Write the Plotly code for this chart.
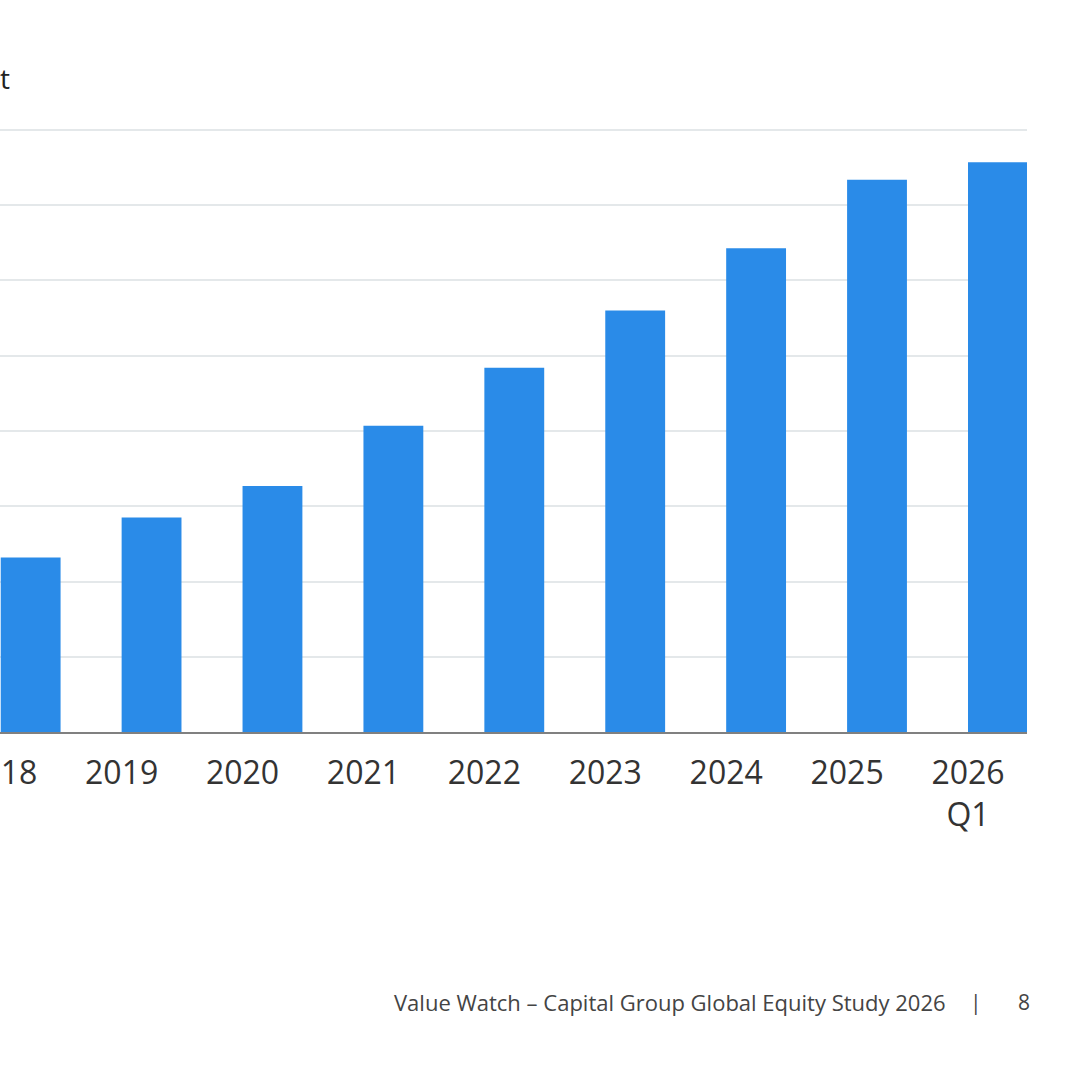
import plotly.graph_objects as go

categories = ["2018", "2019", "2020", "2021", "2022", "2023", "2024", "2025", "2026<br>Q1"]
values = [23.2, 28.5, 32.7, 40.7, 48.4, 56.0, 64.3, 73.4, 75.7]
title_fragment = "t"
footer_text = "Value Watch – Capital Group Global Equity Study 2026"
footer_sep = "|"
page_number = "8"

W, H = 1080, 1080
L, R, T, B = 0, 1027, 126, 732
pw, ph = R - L, B - T

def px_x(x):
    return (x - L) / pw

def px_y(y):
    return (B - y) / ph

fig = go.Figure()
fig.add_trace(go.Bar(
    x=list(range(len(categories))),
    y=values,
    width=0.495,
    offset=0,
    marker=dict(color="#2A8BE8", line=dict(width=0)),
    hoverinfo="skip",
))

fig.update_layout(
    width=W, height=H,
    margin=dict(l=L, r=W - R, t=T, b=H - B, autoexpand=False),
    paper_bgcolor="white",
    plot_bgcolor="white",
    showlegend=False,
    font=dict(family="Open Sans", color="#333333"),
)
fig.update_xaxes(
    type="linear",
    range=[-0.006, 8.488],
    tickmode="array",
    tickvals=list(range(len(categories))),
    ticktext=categories,
    tickfont=dict(size=32, color="#333333", family="Open Sans"),
    ticklabeloverflow="allow",
    ticklabelstandoff=12,
    showgrid=False,
    zeroline=False,
    showline=True,
    linecolor="#808080",
    linewidth=2,
    ticks="",
    automargin=False,
)
fig.update_yaxes(
    range=[0, 80.53],
    tickmode="array",
    tickvals=[0, 10, 20, 30, 40, 50, 60, 70, 80],
    showticklabels=False,
    showgrid=True,
    gridcolor="#E4E8EA",
    gridwidth=1.5,
    zeroline=False,
    automargin=False,
)

fig.add_annotation(
    text=title_fragment, xref="paper", yref="paper",
    x=px_x(-2), y=px_y(78), xanchor="left", yanchor="middle",
    showarrow=False, font=dict(size=28, color="#222222", family="Open Sans"),
)
fig.add_annotation(
    text=footer_text, xref="paper", yref="paper",
    x=px_x(948), y=px_y(1002), xanchor="right", yanchor="middle",
    showarrow=False, font=dict(size=22, color="#444444", family="Open Sans"),
)
fig.add_annotation(
    text=footer_sep, xref="paper", yref="paper",
    x=px_x(976), y=px_y(1002), xanchor="center", yanchor="middle",
    showarrow=False, font=dict(size=21, color="#444444", family="Open Sans"),
)
fig.add_annotation(
    text=page_number, xref="paper", yref="paper",
    x=px_x(1024), y=px_y(1002), xanchor="center", yanchor="middle",
    showarrow=False, font=dict(size=21, color="#444444", family="Open Sans"),
)

fig.write_html("out.html")
